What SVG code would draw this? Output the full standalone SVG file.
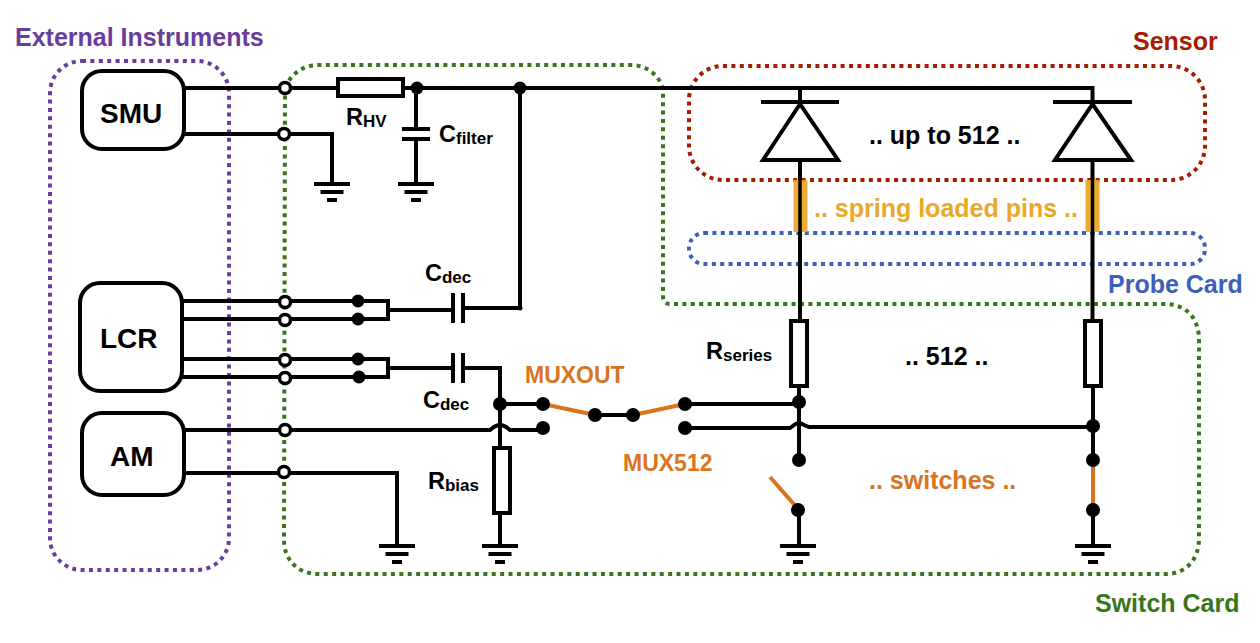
<svg xmlns="http://www.w3.org/2000/svg" width="1260" height="643" viewBox="0 0 1260 643">
<style>
text{font-family:"Liberation Sans",Arial,sans-serif;font-weight:bold;fill:#000}
.w{fill:none;stroke:#000;stroke-width:4;stroke-linejoin:miter}
.o{fill:none;stroke:#d9741f;stroke-width:4}
.b{fill:#fff;stroke:#000;stroke-width:4}
.box{fill:#fff;stroke:#000;stroke-width:4}
.d{fill:none;stroke-width:4;stroke-dasharray:4 4.4}
.j{fill:#000}
.t{fill:#fff;stroke:#000;stroke-width:3.5}
.m{font-size:25px}
.s{font-size:17px}
.l{font-size:23.500px}
.u{font-size:23px;fill:#d9741f}
.x{font-size:28px}
</style>
<defs>
<g id="gnd"><path class="w" d="M-18 0H18M-11.500 8H11.500M-5 16H5" /></g>
</defs>
<g id="regions">
<rect id="external" class="d" x="50" y="61" width="179" height="509" rx="32" stroke="#6a3d9a"/>
<path id="switchcard" class="d" stroke="#38761d" d="M285 88C291 74 302 65 320 65H630C648 65 660 76 663 90V296C663 301 665 304 670 304H1165C1186 304 1199 318 1199 340V538C1199 560 1186 574 1165 574H318C298 574 284 560 284 540Z"/>
<rect id="sensor" class="d" x="689" y="66" width="516" height="114" rx="34" stroke="#a61c00"/>
<rect id="probecard" class="d" x="689" y="233" width="516" height="31" rx="15" stroke="#3c5fb8"/>
</g>
<g id="connectors">
<path class="w" d="M184 88H1092.500V102M800 88V102M800 160V321M1092.500 160V321"/>
<path class="w" d="M184 134H332V184"/>
<path class="w" d="M182 301H388V319H182M388 310H453"/>
<path class="w" d="M463 308H520V88"/>
<path class="w" d="M182 359H388V377H182M388 368H453"/>
<path class="w" d="M463 368H500V448M500 513V547"/>
<path class="w" d="M184 430H490L494 427Q500 423 506 427L510 430H543"/>
<path class="w" d="M184 473H397V545"/>
<path class="w" d="M416 88V129M416 139V184"/>
<path class="w" d="M500 404H543M595 415H633"/>
<path class="w" d="M685 404H799M685 428H790L794 425Q799 421 804 425L809 427H1093"/>
<path class="w" d="M799 386V460M799 510V546"/>
<path class="w" d="M1093 386V460M1093 510V546"/>
<path class="o" d="M543 404L595 415M633 415L685 404M770 477L799 510M1093 460V510"/>
<path d="M800.500 180V232M1092.500 180V232" fill="none" stroke="#eaa82a" stroke-width="14" opacity="0.95"/>
<path class="w" style="stroke-width:3.500" d="M800 178V234M1092.500 178V234"/>
</g>
<g id="smu"><rect class="box" x="82" y="71" width="102" height="78" rx="20"/><text class="x" x="100" y="123">SMU</text></g>
<g id="lcr"><rect class="box" x="80" y="283" width="102" height="108" rx="20"/><text class="x" x="100" y="348">LCR</text></g>
<g id="am"><rect class="box" x="82" y="413" width="102" height="82" rx="20"/><text class="x" x="110" y="466">AM</text></g>
<g id="terminals">
<circle class="t" cx="285" cy="88" r="5.500"/><circle class="t" cx="284" cy="134" r="5.500"/>
<circle class="t" cx="285" cy="302" r="5.500"/><circle class="t" cx="285" cy="320" r="5.500"/>
<circle class="t" cx="285" cy="360" r="5.500"/><circle class="t" cx="285" cy="378" r="5.500"/>
<circle class="t" cx="285" cy="430" r="5.500"/><circle class="t" cx="284" cy="472" r="5.500"/>
</g>
<g id="junctions">
<circle class="j" cx="358" cy="301" r="6.500"/><circle class="j" cx="358" cy="319" r="6.500"/>
<circle class="j" cx="358" cy="359" r="6.500"/><circle class="j" cx="359" cy="377" r="6.500"/>
<circle class="j" cx="417" cy="88" r="6.500"/><circle class="j" cx="520" cy="88" r="6.500"/><circle class="j" cx="520" cy="308" r="2.500"/>
<circle class="j" cx="500" cy="404" r="7"/><circle class="j" cx="543" cy="404" r="7"/><circle class="j" cx="543" cy="428" r="7"/>
<circle class="j" cx="595" cy="415" r="7"/><circle class="j" cx="633" cy="415" r="7"/>
<circle class="j" cx="685" cy="404" r="7"/><circle class="j" cx="685" cy="428" r="7"/>
<circle class="j" cx="799" cy="402" r="7"/><circle class="j" cx="799" cy="460" r="7"/><circle class="j" cx="798" cy="510" r="7"/>
<circle class="j" cx="1093" cy="426" r="7"/><circle class="j" cx="1093" cy="460" r="7"/><circle class="j" cx="1093" cy="510" r="7"/>
</g>
<g id="rhv"><rect class="b" x="338" y="79" width="65" height="17"/><text class="l" x="346" y="125">R<tspan class="s" dy="2">HV</tspan></text></g>
<g id="cfilter"><path class="w" d="M402 129H430M402 139H430"/><text class="l" x="439" y="142">C<tspan class="s" dy="2">filter</tspan></text></g>
<g id="cdec1"><path class="w" d="M453 293V323M463 293V323"/><text class="l" x="425" y="281">C<tspan class="s" dy="2">dec</tspan></text></g>
<g id="cdec2"><path class="w" d="M453 353V383M463 353V383"/><text class="l" x="423" y="408">C<tspan class="s" dy="2">dec</tspan></text></g>
<g id="rbias"><rect class="b" x="494" y="448" width="16" height="65"/><text class="l" x="428" y="489">R<tspan class="s" dy="2">bias</tspan></text></g>
<g id="rseries1"><rect class="b" x="791" y="321" width="16" height="65"/><text class="l" x="706" y="359">R<tspan class="s" dy="2">series</tspan></text></g>
<g id="rseries2"><rect class="b" x="1085" y="321" width="16" height="65"/></g>
<g id="diode1"><path class="w" d="M761 102H839"/><path class="w" d="M800 104L763 160H838Z"/></g>
<g id="diode2"><path class="w" d="M1053 102H1132"/><path class="w" d="M1092.500 104L1055 160H1131Z"/></g>
<g id="grounds">
<use href="#gnd" x="332" y="184"/><use href="#gnd" x="416" y="184"/><use href="#gnd" x="397" y="546"/><use href="#gnd" x="500" y="546"/><use href="#gnd" x="798" y="546"/><use href="#gnd" x="1093" y="546"/>
</g>
<g id="labels">
<text class="m" x="15" y="46" style="fill:#6a3d9a">External Instruments</text>
<text class="m" x="1133" y="50" style="fill:#a61c00">Sensor</text>
<text class="m" x="1108" y="293" style="fill:#3c5fb8">Probe Card</text>
<text class="m" x="1095" y="612" style="fill:#38761d">Switch Card</text>
<text class="m" x="869" y="144">.. up to 512 ..</text>
<text class="m" x="814" y="217" style="fill:#eaa82a">.. spring loaded pins ..</text>
<text class="m" x="905" y="365">.. 512 ..</text>
<text class="m" x="869" y="489" style="fill:#d9741f">.. switches ..</text>
<text class="u" x="525" y="383">MUXOUT</text>
<text class="u" x="623" y="471">MUX512</text>
</g>
</svg>
